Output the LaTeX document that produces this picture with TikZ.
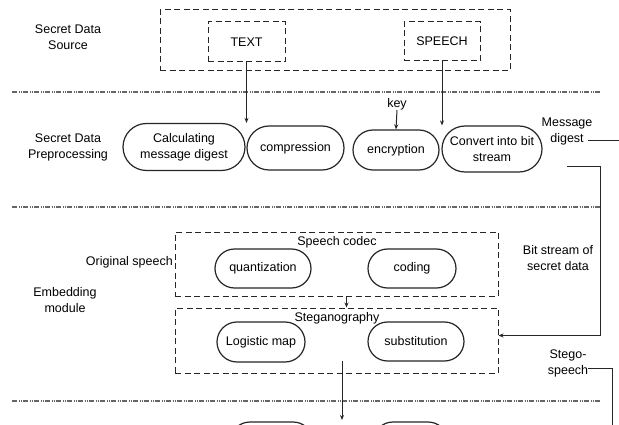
\documentclass[tikz,border=0pt]{standalone}
\usepackage{fontspec}
\setmainfont{Liberation Sans}
\usetikzlibrary{shapes.misc,arrows.meta,calc}
\begin{document}
\begin{tikzpicture}[x=1pt,y=-1pt,
  every node/.style={font=\fontsize{12.5}{16}\selectfont, text=black, inner sep=0pt, align=center},
  pill/.style={draw=black!85, line width=1.2pt, rounded rectangle, inner sep=0pt},
  dbox/.style={draw=black!85, line width=1pt, dash pattern=on 6pt off 3.5pt, rectangle, inner sep=0pt},
  sep/.style={draw=black!60, line width=1.1pt, dash pattern=on 5pt off 1.5pt on 1pt off 1pt on 1pt off 1.5pt},
  conn/.style={draw=black!85, line width=1pt},
  arr/.style={conn, -{Stealth[length=5pt,width=4pt]}}]
\useasboundingbox (0,0) rectangle (619,425);
\clip (0,0) rectangle (619,425);
\fill[white] (0,0) rectangle (619,425);

% separators
\draw[sep] (12,92) -- (600,92);
\draw[sep] (12,207) -- (600,207);
\draw[sep] (12,401) -- (600,401);

% Section labels
\node (lsrc) at (68,37) {Secret Data\\Source};
\node (lpre) at (68,147) {Secret Data\\Preprocessing};
\node (lemb) at (65,300) {Embedding\\module};

% Secret data source
\node[dbox, minimum width=350pt, minimum height=61pt] (src) at (335,40.5) {};
\node[dbox, minimum width=77pt, minimum height=40pt] (text) at (246.5,42) {TEXT};
\node[dbox, minimum width=76pt, minimum height=39pt] (speech) at (442,41.5) {SPEECH};

% Preprocessing
\node[pill, minimum width=122pt, minimum height=47pt] (calc) at (184,147) {Calculating\\message digest};
\node[pill, minimum width=97pt, minimum height=44pt] (comp) at (295.5,148) {compression};
\node[pill, minimum width=86pt, minimum height=40pt] (enc) at (396,150) {encryption};
\node[pill, minimum width=100pt, minimum height=46pt] (conv) at (492,149) {Convert into bit\\stream};
\node (key) at (397,104) {key};
\node (msg) at (567,131) {Message\\digest};
\coordinate (mdstart) at (588,141);
\coordinate (mdend) at (625,141);
\coordinate (bsstart) at (567,167);
\node (bits) at (558,258) {Bit stream of\\secret data};

\draw[arr] (text.south) -- (text.south |- calc.north);
\draw[arr] (speech.south) -- (speech.south |- conv.north);
\draw[arr] (key.south) -- (enc.north);
\draw[conn] (mdstart) -- (mdend);

% Embedding
\node[dbox, minimum width=323pt, minimum height=64pt] (codec) at (336.5,264) {};
\node[dbox, minimum width=323pt, minimum height=65pt] (steg) at (336.5,340.5) {};
\node (lcodec) at (337,242) {Speech codec};
\node (lsteg) at (337,318) {Steganography};
\node[pill, minimum width=96pt, minimum height=39pt] (quant) at (263,268.5) {quantization};
\node[pill, minimum width=88pt, minimum height=39pt] (coding) at (412,268.5) {coding};
\node[pill, minimum width=88pt, minimum height=40pt] (logi) at (261,342) {Logistic map};
\node[pill, minimum width=96pt, minimum height=39pt] (subst) at (416,341.5) {substitution};
\node[anchor=east] (orig) at (173,262) {Original speech};
\node (stego) at (568,363) {Stego-\\speech};
\coordinate (stegoend) at (612,430);
\coordinate (outend) at (342,420);

\draw[arr] ([xshift=10pt]codec.south) -- ([xshift=10pt]steg.north);
\draw[arr] (bsstart) -- (600,167) |- ([yshift=5pt]steg.east);
\draw[arr] ([xshift=5.5pt,yshift=13pt]steg.south) -- (outend);
\draw[conn] ([yshift=-5pt]stego.east) -| (stegoend);

% partially visible next-stage pills
\node[pill, minimum width=83pt, minimum height=40pt] (nxt1) at (271.5,442) {};
\node[pill, minimum width=75pt, minimum height=40pt] (nxt2) at (410.5,442) {};
\end{tikzpicture}
\end{document}
